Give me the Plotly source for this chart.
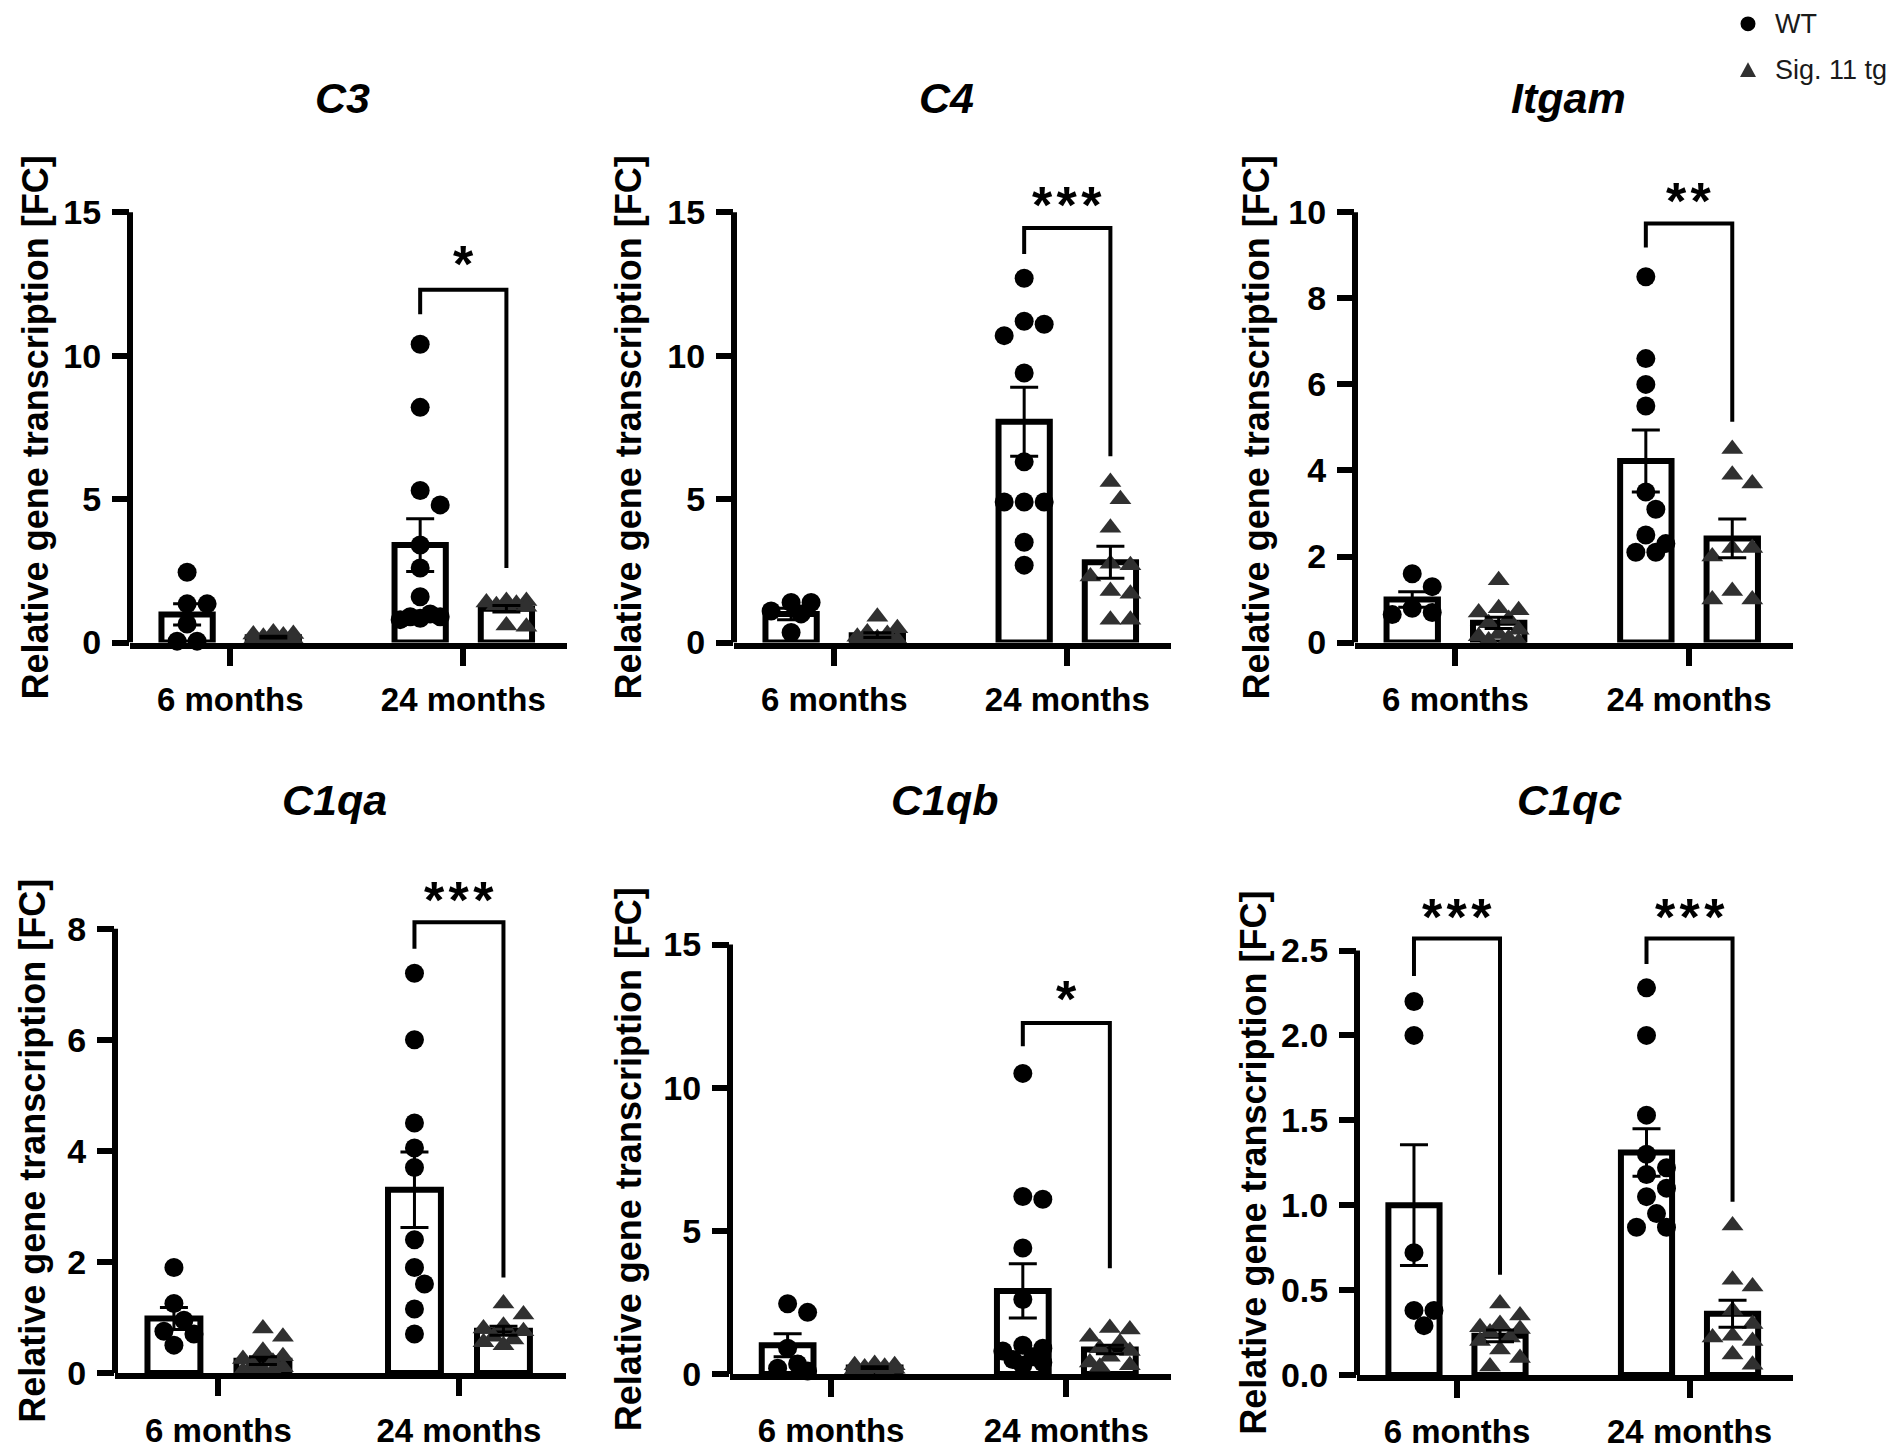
import plotly.graph_objects as go

# Genes and age groups
genes = ["C3", "C4", "Itgam", "C1qa", "C1qb", "C1qc"]
ages = ["6 months", "24 months"]

# Individual values: [6 months, 24 months]
c3_wt = [[2.45, 1.35, 1.35, 0.65, 0.05, 0.05],
         [10.4, 8.2, 5.3, 4.8, 3.4, 2.6, 1.6, 1.0, 0.9, 0.9, 0.85, 0.8]]
c3_tg = [[0.35, 0.3, 0.28, 0.25, 0.2, 0.15, 0.12, 0.1, 0.08, 0.05],
         [1.45, 1.45, 1.4, 1.35, 1.3, 1.3, 1.25, 0.6, 0.55]]
c4_wt = [[1.4, 1.4, 1.1, 1.0, 0.35],
         [12.7, 11.2, 11.1, 10.7, 9.4, 6.3, 4.9, 4.9, 4.9, 3.5, 2.7]]
c4_tg = [[0.9, 0.5, 0.35, 0.3, 0.2, 0.15, 0.1, 0.08, 0.05, 0.05],
         [5.6, 5.0, 4.0, 2.75, 2.7, 2.3, 1.8, 1.7, 0.8, 0.8]]
itgam_wt = [[1.6, 1.3, 0.8, 0.7, 0.65],
            [8.5, 6.6, 6.0, 5.5, 3.5, 3.1, 2.5, 2.3, 2.1, 2.1]]
itgam_tg = [[1.45, 0.8, 0.75, 0.7, 0.55, 0.45, 0.3, 0.2, 0.15, 0.1, 0.05, 0.02],
            [4.5, 3.9, 3.7, 2.2, 2.2, 2.0, 1.2, 1.0, 1.0]]
c1qa_wt = [[1.9, 1.25, 0.95, 0.75, 0.7, 0.5],
           [7.2, 6.0, 4.5, 4.05, 3.7, 2.4, 1.9, 1.6, 1.15, 0.7]]
c1qa_tg = [[0.8, 0.65, 0.4, 0.3, 0.25, 0.2, 0.15, 0.1, 0.06, 0.04, 0.03, 0.02],
           [1.25, 1.05, 0.85, 0.8, 0.75, 0.65, 0.6, 0.55, 0.5]]
c1qb_wt = [[2.45, 2.15, 0.9, 0.35, 0.2, 0.1],
           [10.5, 6.2, 6.1, 4.4, 2.6, 1.0, 0.9, 0.8, 0.6, 0.5, 0.4, 0.3]]
c1qb_tg = [[0.35, 0.3, 0.3, 0.25, 0.22, 0.2, 0.18, 0.15, 0.12, 0.1],
           [1.6, 1.55, 1.3, 1.1, 0.9, 0.8, 0.6, 0.4, 0.3, 0.25]]
c1qc_wt = [[2.2, 2.0, 0.72, 0.38, 0.38, 0.29],
           [2.28, 2.0, 1.53, 1.3, 1.22, 1.18, 1.1, 1.05, 0.95, 0.87, 0.87]]
c1qc_tg = [[0.42, 0.35, 0.3, 0.28, 0.27, 0.25, 0.22, 0.2, 0.15, 0.1, 0.05],
           [0.88, 0.56, 0.52, 0.38, 0.3, 0.23, 0.22, 0.2, 0.12, 0.06]]

# Bar heights (mean) and error bars (SEM) per gene: [6 months, 24 months]
wt_mean = [[0.98, 3.4], [1.0, 7.7], [1.0, 4.22], [0.98, 3.3], [1.0, 2.9], [1.0, 1.31]]
wt_sem = [[0.37, 0.92], [0.2, 1.2], [0.18, 0.72], [0.2, 0.68], [0.4, 0.95], [0.355, 0.14]]
tg_mean = [[0.19, 1.18], [0.26, 2.8], [0.46, 2.42], [0.22, 0.76], [0.22, 0.85], [0.23, 0.36]]
tg_sem = [[0.03, 0.11], [0.08, 0.56], [0.13, 0.45], [0.07, 0.08], [0.03, 0.15], [0.035, 0.08]]

# Y axes
y_max = [15, 15, 10, 8, 15, 2.5]
y_step = [5, 5, 2, 2, 5, 0.5]

# Significance brackets: label, bracket height, left leg end, right leg end, star height
sig_label = [["", "*"], ["", "***"], ["", "**"], ["", "***"], ["", "*"], ["***", "***"]]
sig_top = [[0, 12.3], [0, 14.45], [0, 9.74], [0, 8.12], [0, 12.26], [2.57, 2.57]]
sig_left = [[0, 11.45], [0, 13.55], [0, 9.18], [0, 7.64], [0, 11.45], [2.35, 2.42]]
sig_right = [[0, 2.6], [0, 6.5], [0, 5.13], [0, 1.72], [0, 3.69], [0.59, 1.02]]
sig_star = [[0, 13.4], [0, 15.48], [0, 10.4], [0, 8.63], [0, 13.3], [2.735, 2.735]]

wt_points = [c3_wt, c4_wt, itgam_wt, c1qa_wt, c1qb_wt, c1qc_wt]
tg_points = [c3_tg, c4_tg, itgam_tg, c1qa_tg, c1qb_tg, c1qc_tg]

W, H = 1902, 1452
# Panel frames in pixels: y-axis x, x-axis right end, top of y axis, zero line, top of plot area
frames = [
    (122, 559, 207, 643, 160),
    (726, 1163, 207, 643, 160),
    (1347, 1785, 207, 643, 160),
    (107, 558, 933, 1383, 860),
    (722, 1163, 949, 1384, 860),
    (1349, 1785, 955, 1385, 860),
]
ylabel_x = [27, 620, 1248, 25, 620, 1246]
title_y = [91, 91, 91, 803, 803, 803]
x_lo, x_hi = -0.43, 1.445
offset = 0.185
bar_w = 0.22
LW = 6
FONT = "Liberation Sans, Arial, sans-serif"
TG_COLOR = "#303030"


def swarm(values, ppu_y, ppu_x, step=10, diam=18):
    # Spread points sideways so they do not sit on top of each other
    placed = []
    offs = [0.0] * len(values)
    order = sorted(range(len(values)), key=lambda k: -values[k])
    for k in order:
        yk = values[k] * ppu_y
        best, best_d = 0, -1
        for c in (0, step, -step, 2 * step, -2 * step):
            d = min([((c - px) ** 2 + (yk - py) ** 2) ** 0.5 for px, py in placed] or [99])
            if d >= diam:
                best = c
                break
            if d > best_d:
                best, best_d = c, d
        placed.append((best, yk))
        offs[k] = best / ppu_x
    return offs


fig = go.Figure()
shapes = []
annotations = []

for i, gene in enumerate(genes):
    sfx = "" if i == 0 else str(i + 1)
    xa, ya = "x" + sfx, "y" + sfx
    ax_x, right_x, top_px, zero_px, plot_top = frames[i]
    ppu_x = (right_x - ax_x) / (x_hi - x_lo)
    ppu_y = (zero_px - top_px) / y_max[i]
    y_top = y_max[i] * (zero_px - plot_top) / (zero_px - top_px)

    # Bars
    for means, side in ((wt_mean[i], -offset), (tg_mean[i], offset)):
        fig.add_trace(go.Bar(
            x=[g + side for g in range(len(ages))], y=means, width=bar_w,
            marker=dict(color="white", line=dict(color="black", width=LW)),
            xaxis=xa, yaxis=ya, showlegend=False))

    # Points
    for g in range(len(ages)):
        for pts, side, sym, col in ((wt_points[i][g], -offset, "circle", "black"),
                                    (tg_points[i][g], offset, "triangle-up", TG_COLOR)):
            offs = swarm(pts, ppu_y, ppu_x)
            fig.add_trace(go.Scatter(
                x=[g + side + o for o in offs], y=pts, mode="markers",
                marker=dict(symbol=sym, size=19, color=col, line=dict(width=0)),
                cliponaxis=False, xaxis=xa, yaxis=ya, showlegend=False))

    # Mean +/- SEM
    for means, sems, side in ((wt_mean[i], wt_sem[i], -offset), (tg_mean[i], tg_sem[i], offset)):
        fig.add_trace(go.Scatter(
            x=[g + side for g in range(len(ages))], y=means, mode="markers",
            marker=dict(size=1, color="rgba(0,0,0,0)"),
            error_y=dict(type="data", array=sems, color="black", thickness=3, width=14),
            cliponaxis=False, xaxis=xa, yaxis=ya, showlegend=False))

    # Axes
    ticks = [k * y_step[i] for k in range(int(round(y_max[i] / y_step[i])) + 1)]
    fig.update_layout({
        "xaxis" + sfx: dict(
            domain=[ax_x / W, right_x / W], anchor=ya, range=[x_lo, x_hi],
            tickvals=list(range(len(ages))), ticktext=ages,
            ticks="outside", ticklen=17, tickwidth=LW, tickcolor="black",
            showline=True, linewidth=LW, linecolor="black",
            showgrid=False, zeroline=False, ticklabelstandoff=6,
            tickfont=dict(family=FONT, size=33, color="black", weight=700)),
        "yaxis" + sfx: dict(
            domain=[1 - zero_px / H, 1 - plot_top / H], anchor=xa, range=[0, y_top],
            tickvals=ticks, tickformat=".1f" if y_step[i] < 1 else "d",
            ticks="outside", ticklen=17, tickwidth=LW, tickcolor="black",
            showline=False, showgrid=False, zeroline=False, ticklabelstandoff=4,
            tickfont=dict(family=FONT, size=34, color="black", weight=700)),
    })
    shapes.append(dict(type="line", xref=xa + " domain", yref=ya, x0=0, x1=0,
                       y0=0, y1=y_max[i], line=dict(color="black", width=LW)))

    # Significance brackets
    for g in range(len(ages)):
        if not sig_label[i][g]:
            continue
        xl, xr = g - offset, g + offset
        shapes.append(dict(
            type="path", xref=xa, yref=ya,
            path=(f"M {xl},{sig_left[i][g]} L {xl},{sig_top[i][g]} "
                  f"L {xr},{sig_top[i][g]} L {xr},{sig_right[i][g]}"),
            line=dict(color="black", width=4)))
        annotations.append(dict(
            x=g, y=sig_star[i][g], xref=xa, yref=ya, showarrow=False,
            xanchor="center", yanchor="middle", yshift=-6,
            text="\u200a".join(sig_label[i][g]),
            font=dict(family=FONT, size=52, color="black", weight=700)))

    # Panel title and y-axis title
    annotations.append(dict(
        x=((ax_x + right_x) / 2 - 6) / W, y=1 - title_y[i] / H, xref="paper", yref="paper",
        xanchor="center", yanchor="middle",
        text=f"<i>{gene}</i>", showarrow=False,
        font=dict(family=FONT, size=43, color="black", weight=700)))
    annotations.append(dict(
        x=ylabel_x[i] / W, y=1 - (top_px + zero_px) / 2 / H, xref="paper", yref="paper",
        xanchor="center", yanchor="middle",
        text="Relative gene transcription [FC]", textangle=-90, showarrow=False,
        font=dict(family=FONT, size=36, color="black", weight=700)))

# Legend
lx, ly1, ly2 = 1740, 16, 63
shapes.append(dict(type="circle", xref="paper", yref="paper",
                   x0=(lx - 7.5) / W, x1=(lx + 7.5) / W,
                   y0=1 - (ly1 + 7.5) / H, y1=1 - (ly1 - 7.5) / H,
                   fillcolor="black", line=dict(width=0)))
shapes.append(dict(type="path", xref="paper", yref="paper",
                   path=(f"M {(lx - 8) / W},{1 - (ly2 + 7) / H} L {(lx + 8) / W},{1 - (ly2 + 7) / H} "
                         f"L {lx / W},{1 - (ly2 - 8) / H} Z"),
                   fillcolor=TG_COLOR, line=dict(width=0)))
for text, ly in (("WT", ly1), ("Sig. 11 tg", ly2)):
    annotations.append(dict(x=1765 / W, y=1 - ly / H, xref="paper", yref="paper",
                            xanchor="left", yanchor="middle", text=text, showarrow=False,
                            font=dict(family=FONT, size=27, color="#1a1a1a")))

fig.update_layout(
    width=W, height=H, margin=dict(l=0, r=0, t=0, b=0),
    paper_bgcolor="white", plot_bgcolor="white",
    barmode="overlay", showlegend=False,
    font=dict(family=FONT, color="black"),
    shapes=shapes, annotations=annotations,
)

fig.write_html("out.html")
